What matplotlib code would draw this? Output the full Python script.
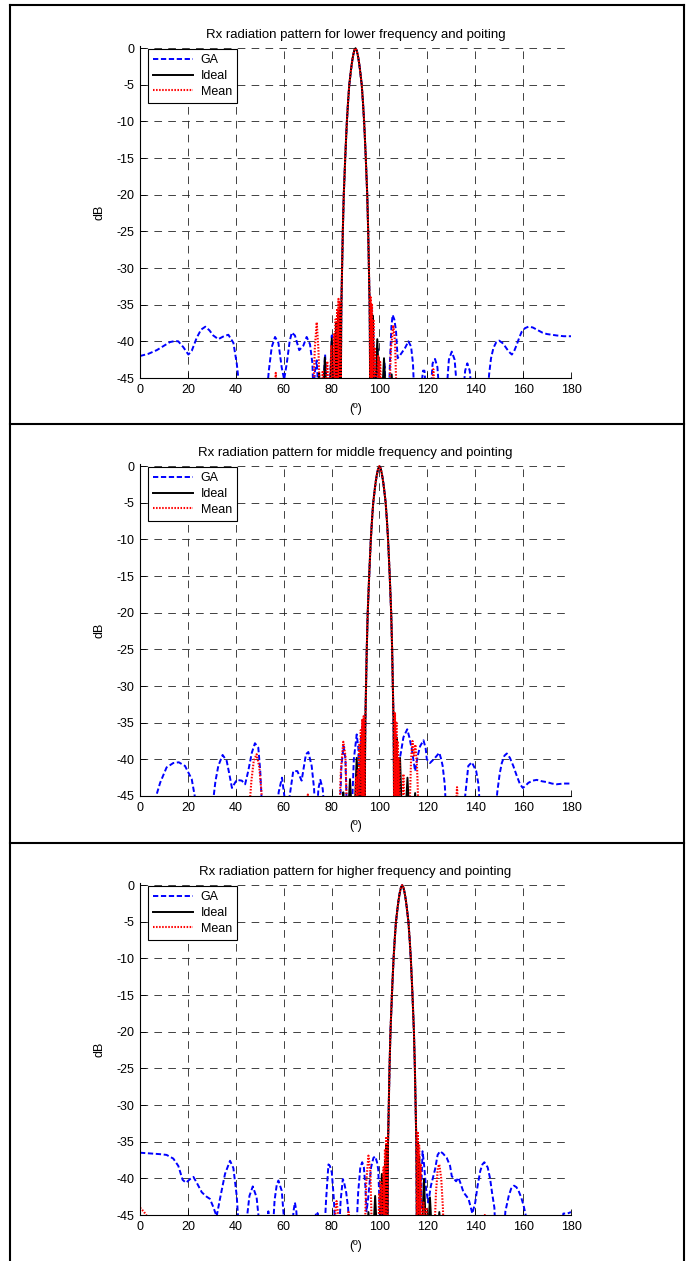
import matplotlib
matplotlib.use("Agg")
import matplotlib.pyplot as plt
from matplotlib.lines import Line2D

plt.rcParams["font.family"] = ["Liberation Sans", "DejaVu Sans"]
plt.rcParams["lines.scale_dashes"] = False
plt.rcParams["axes.unicode_minus"] = False

TITLES = [
    "Rx radiation pattern for lower frequency and poiting",
    "Rx radiation pattern for middle frequency and pointing",
    "Rx radiation pattern for higher frequency and pointing",
]
X_TICKS = list(range(0, 181, 20))
Y_TICKS = list(range(0, -46, -5))

# main lobe, (angle, dB), one per panel; -47 means below the -45 dB floor
P1_MAIN = [(83.9, -47), (84.0, -39), (84.1, -35), (84.25, -32.5), (84.4, -30), (84.55, -27.5),
           (84.7, -25), (84.9, -22.5), (85.1, -20), (85.4, -17.5), (85.7, -15), (86.0, -12.8),
           (86.4, -10), (86.9, -7.3), (87.4, -5), (88.1, -3), (88.5, -2), (89.0, -1), (89.5, -0.3),
           (90.0, 0), (90.5, -0.3), (91.0, -1), (91.5, -2), (91.9, -3), (92.6, -5), (93.1, -7.3),
           (93.6, -10), (94.0, -12.8), (94.3, -15), (94.6, -17.5), (94.9, -20), (95.1, -22.5),
           (95.3, -25), (95.45, -27.5), (95.6, -30), (95.75, -32.5), (95.9, -35), (96.0, -39), (96.1, -47)]
P2_MAIN = [(93.9, -47), (94.0, -39), (94.1, -35), (94.25, -32.5), (94.4, -30), (94.55, -27.5),
           (94.7, -25), (94.9, -22.5), (95.1, -20), (95.4, -17.5), (95.7, -15), (96.0, -12.8),
           (96.4, -10), (96.9, -7.3), (97.4, -5), (98.1, -3), (98.5, -2), (99.0, -1), (99.5, -0.3),
           (100.0, 0), (100.5, -0.3), (101.0, -1), (101.5, -2), (101.9, -3), (102.6, -5), (103.1, -7.3),
           (103.6, -10), (104.0, -12.8), (104.3, -15), (104.6, -17.5), (104.9, -20), (105.1, -22.5),
           (105.3, -25), (105.45, -27.5), (105.6, -30), (105.75, -32.5), (105.9, -35), (106.0, -39), (106.1, -47)]
P3_MAIN = [(103.4, -47), (103.5, -39), (103.6, -35), (103.75, -32.5), (103.9, -30), (104.05, -27.5),
           (104.2, -25), (104.4, -22.5), (104.6, -20), (104.9, -17.5), (105.2, -15), (105.5, -12.8),
           (105.9, -10), (106.4, -7.3), (106.9, -5), (107.6, -3), (108.0, -2), (108.5, -1), (109.0, -0.3),
           (109.5, 0), (110.0, -0.3), (110.5, -1), (111.0, -2), (111.4, -3), (112.1, -5), (112.6, -7.3),
           (113.1, -10), (113.5, -12.8), (113.8, -15), (114.1, -17.5), (114.4, -20), (114.6, -22.5),
           (114.8, -25), (114.95, -27.5), (115.1, -30), (115.25, -32.5), (115.4, -35), (115.5, -39), (115.6, -47)]

# panel 1: GA (left of main lobe, right of main lobe), Ideal, Mean
P1_GA_L = [(0, -42.0), (3.5, -41.7), (7.0, -41.2), (10, -40.6), (12.5, -40.1), (14.6, -39.95), (16.0, -40.0),
           (18.1, -40.8), (20.2, -41.8), (21.6, -41.3), (23.7, -39.5), (25.5, -38.4), (27.3, -38.0),
           (29.0, -38.5), (30.6, -39.2), (32.7, -39.7), (35.0, -39.3), (36.9, -39.1), (39.0, -40.2),
           (40.4, -43), (41.4, -46), (42, -47), (53, -47), (53.8, -44), (55.0, -40.8), (56.4, -39.4),
           (57.8, -40.2), (59.2, -43.6), (60.2, -45.2), (61.3, -43), (62.5, -40), (63.4, -38.8),
           (64.7, -39.2), (66.5, -41.2), (68.2, -40.6), (69.6, -39.4), (71.0, -40.4), (72.0, -43),
           (72.4, -47), (73.1, -44), (73.8, -42.6), (74.5, -47), (76.4, -47), (77.3, -41.8), (78.1, -47),
           (79.2, -47), (80.1, -39.2), (80.9, -47), (81.5, -47), (82.0, -39), (82.4, -47), (82.9, -36),
           (83.3, -47), (83.6, -35.5), (83.8, -47)]
P1_GA_R = [(96.2, -47), (96.6, -35), (97.0, -47), (97.4, -38), (97.8, -47), (98.6, -47), (99.2, -41),
           (99.8, -47), (101.5, -47), (102.1, -43), (102.7, -47), (104.0, -47), (104.4, -42.8), (105.0, -38),
           (105.5, -36.4), (106.2, -37), (106.9, -38.5), (107.6, -42.3), (108.6, -41.9), (110.7, -40.9),
           (112.1, -40), (113.2, -40.7), (114.0, -43), (114.5, -47), (117.2, -47), (118.2, -44),
           (118.8, -44), (119.5, -47), (121.4, -47), (122.2, -43), (123.2, -42.4), (124.2, -43.5),
           (125, -47), (128, -47), (129, -42.5), (130.2, -41.4), (131.4, -42.5), (132.5, -47), (135, -47),
           (135.8, -44), (136.7, -43), (137.7, -44), (138.5, -47), (145.2, -47), (145.8, -44.5),
           (146.6, -42.3), (147.6, -40.9), (148.8, -40.1), (150, -39.9), (151.3, -40.2), (152.5, -40.7),
           (154, -41.4), (155.3, -41.8), (156.3, -41.3), (157.4, -40.4), (158.5, -39.4), (159.4, -38.7),
           (160.8, -38.2), (162.2, -38.0), (164, -38.1), (165.7, -38.4), (168, -38.8), (169.9, -39.0),
           (172, -39.1), (174.1, -39.2), (177, -39.3), (180, -39.3)]
P1_IDEAL_L = [(60, -47), (74.4, -47), (74.8, -44.3), (75.2, -47), (76.6, -47), (77.2, -42.2), (77.8, -47),
              (79.4, -47), (80.1, -39.6), (80.8, -47), (81.6, -47), (82.0, -37.5), (82.4, -47),
              (82.8, -36), (83.2, -47), (83.5, -35), (83.8, -47)]
P1_IDEAL_R = [(96.2, -47), (96.5, -35), (96.8, -47), (97.2, -36.5), (97.6, -47), (98.3, -47), (99.1, -39.7),
              (99.9, -47), (101.2, -47), (101.9, -42.3), (102.6, -47), (104.6, -47), (105.1, -44.5),
              (105.6, -47), (120, -47)]
P1_MEAN_L = [(55, -47), (56.2, -47), (56.7, -44.3), (57.2, -47), (72.4, -47), (73.0, -41), (73.8, -37.4),
             (74.5, -41), (75.1, -47), (75.8, -47), (76.3, -44), (76.8, -47), (77.4, -47), (78.2, -42.7),
             (79.0, -47), (79.4, -47), (79.9, -40.5), (80.4, -47), (80.8, -47), (81.1, -39), (81.4, -47),
             (81.7, -37), (82.0, -47), (82.3, -35.5), (82.6, -47), (82.9, -34.2), (83.2, -47),
             (83.5, -34.5), (83.8, -47)]
P1_MEAN_R = [(96.2, -47), (96.4, -34), (96.7, -47), (96.9, -35), (97.2, -47), (97.5, -37), (97.8, -47),
             (98.1, -41), (98.5, -47), (99.0, -47), (99.5, -42), (100.0, -47), (100.3, -42.8),
             (100.8, -47), (104.2, -47), (104.8, -41), (105.8, -37.8), (106.5, -40), (107.1, -47),
             (121.8, -47), (122.5, -43.8), (123.2, -47), (130, -47)]

# panel 2
P2_GA_L = [(0, -47), (6.0, -47), (6.3, -45.5), (8.4, -43.2), (11.1, -41.1), (13.9, -40.5), (16.2, -40.4),
           (18.8, -40.9), (21.6, -42.7), (23.4, -46), (23.8, -47), (30.2, -47), (30.6, -45.5), (31.5, -43),
           (32.7, -40.9), (34.5, -39.4), (36.2, -40.2), (37.3, -42), (38.4, -43.9), (40.4, -42.8),
           (42.5, -42.9), (43.9, -43.4), (45.2, -41.6), (46.7, -39.1), (48.0, -37.8), (49.4, -38.4),
           (50.2, -41.5), (50.8, -45.5), (51.2, -47), (57.4, -47), (57.9, -44.5), (59.3, -42.5),
           (60.4, -45.3), (60.8, -47), (62.0, -47), (62.5, -45), (64.0, -41.6), (65.7, -41.6),
           (67.5, -42.9), (69.3, -39.3), (70.3, -39.0), (71.7, -40.9), (72.7, -44), (73.1, -47),
           (74.0, -47), (74.5, -44), (75.3, -42.8), (76.3, -44), (77.0, -47), (83.5, -47), (84.1, -41),
           (85.0, -38.2), (85.8, -40), (86.4, -47), (88.5, -47), (89.3, -40), (90.5, -36.6), (91.2, -38.5),
           (91.6, -47), (92.0, -47), (92.3, -37), (92.6, -47), (92.9, -35.5), (93.2, -47), (93.5, -35),
           (93.8, -47)]
P2_GA_R = [(106.2, -47), (106.6, -36), (107.0, -47), (107.3, -41), (107.9, -40.9), (109, -39), (110, -37),
           (111.6, -35.9), (112.5, -37), (113.5, -38.6), (114.9, -41.6), (116, -39.5), (117, -38.2),
           (118.4, -37.4), (119.3, -38.5), (119.8, -40), (121.1, -40.5), (123.2, -39.8), (125, -39.1),
           (125.8, -40), (126.4, -40.9), (127.3, -43.5), (127.8, -47), (135.4, -47), (135.8, -45),
           (137.1, -40.9), (138.6, -40.4), (140.4, -41.6), (141.4, -43.5), (142, -47), (148.6, -47),
           (149.2, -44.5), (150.2, -42), (151.1, -40.5), (152.2, -39.5), (153.2, -39.2), (154.5, -39.8),
           (155.9, -40.9), (157.3, -42.2), (158.7, -43.4), (159.9, -43.9), (161, -43.6), (162.2, -43.2),
           (164, -42.9), (165.7, -42.8), (168, -43.0), (169.9, -43.1), (172, -43.3), (174, -43.4),
           (177, -43.3), (180, -43.3)]
P2_IDEAL_L = [(80, -47), (84.5, -47), (84.9, -44.5), (85.3, -47), (87.0, -47), (87.7, -42.7), (88.4, -47),
              (89.7, -47), (90.5, -39.8), (91.3, -47), (91.9, -47), (92.2, -38), (92.5, -47), (92.8, -36.5),
              (93.1, -47), (93.4, -35.2), (93.8, -47)]
P2_IDEAL_R = [(106.2, -47), (106.5, -35), (106.8, -47), (107.2, -37), (107.6, -47), (107.9, -47),
              (108.6, -39.8), (109.3, -47), (111.0, -47), (111.7, -42.5), (112.4, -47), (114.4, -47),
              (114.9, -44.6), (115.4, -47), (120, -47)]
P2_MEAN_L = [(40, -47), (45.6, -47), (46.5, -43), (47.5, -40.2), (48.7, -39.3), (49.8, -41), (50.6, -44),
             (51.3, -47), (69.7, -47), (70.1, -44.8), (70.5, -47), (83.3, -47), (83.9, -41.5), (84.9, -37.6),
             (85.8, -39.5), (86.4, -47), (89.8, -47), (90.2, -42.5), (90.6, -47), (90.9, -41.5), (91.3, -47),
             (91.6, -38), (91.9, -47), (92.2, -36), (92.5, -47), (92.8, -34.5), (93.1, -47), (93.4, -34.1),
             (93.8, -47)]
P2_MEAN_R = [(106.2, -47), (106.5, -33.7), (106.8, -47), (107.1, -35), (107.4, -47), (107.7, -37.5),
             (108.0, -47), (108.3, -40), (108.6, -47), (109.5, -47), (110, -42), (110.5, -47), (112.6, -47),
             (113.2, -40), (113.8, -37.5), (114.4, -39.5), (115.0, -38), (115.7, -41), (116.3, -47),
             (131.8, -47), (132.4, -43.8), (133.0, -47), (140, -47)]

# panel 3
P3_GA_L = [(0, -36.5), (4.5, -36.6), (8.4, -36.7), (11.1, -36.8), (13.9, -37.3), (16.0, -38.3), (17.8, -40.2),
           (19.2, -40.6), (20.9, -40.1), (22.3, -39.8), (23.7, -40.6), (25.8, -41.9), (27.8, -42.5),
           (29.2, -42.8), (30.6, -43.9), (32.0, -45.2), (33.4, -42.8), (35.5, -39.4), (37.6, -37.6),
           (39.0, -38.6), (40.4, -42.4), (41.1, -46), (41.4, -47), (44.3, -47), (44.8, -45), (45.7, -42.4),
           (47.1, -41.1), (48.7, -42.6), (49.6, -45.5), (49.9, -47), (53.0, -47), (53.6, -44.5), (54.2, -47),
           (55.5, -47), (56.2, -43), (57.1, -40.9), (57.8, -40.3), (59.2, -41.7), (60.0, -45), (60.4, -47),
           (63.6, -47), (64.1, -44.5), (64.7, -43.3), (65.3, -44.5), (65.7, -47), (73.0, -47), (73.5, -44.6),
           (74.3, -44.8), (74.9, -47), (77.1, -47), (77.7, -43), (78.7, -38.1), (79.3, -38.3), (80.1, -39.2),
           (81.0, -43), (81.5, -47), (83.2, -47), (83.8, -43), (84.7, -40.1), (85.2, -40.5), (86.1, -41.9),
           (86.9, -44), (87.4, -47), (90.4, -47), (91.1, -42), (92.0, -38.5), (92.8, -37.8), (93.5, -38.5),
           (94.1, -41), (94.6, -44.5), (95.2, -43), (96.5, -38.5), (97.5, -37.2), (98.2, -37.0),
           (99.0, -37.8), (99.5, -38.8), (100.0, -43), (100.3, -47), (100.6, -47), (100.9, -41),
           (101.3, -47), (101.8, -47), (102.2, -40.5), (102.6, -47), (102.9, -36.5), (103.2, -47)]
P3_GA_R = [(115.8, -47), (116.1, -36), (116.4, -47), (116.8, -38), (117.2, -44), (118.0, -36.3), (118.6, -38),
           (119.5, -41.5), (120.4, -43.3), (121.5, -41), (123.2, -38.8), (124.3, -36.8), (125.3, -36.3),
           (126.5, -36.6), (128.1, -37.2), (129.5, -38.3), (130.2, -39.7), (132.0, -40.4), (133.0, -39.9),
           (134.0, -40.8), (135.1, -41.9), (137.2, -42.8), (138.0, -43.8), (138.8, -44.8), (140.0, -43.3),
           (141.0, -41), (142.1, -39.0), (143.0, -38.1), (143.8, -37.8), (145.2, -38.5), (146.2, -40),
           (147.0, -41.9), (148.0, -44), (148.4, -47), (152.0, -47), (152.6, -44.5), (154.0, -42.4),
           (155.0, -41.4), (156.2, -41.0), (157.2, -41.2), (158.1, -41.7), (159.2, -42.6), (160.2, -43.7),
           (161.2, -45.2), (161.6, -47), (176.0, -47), (176.8, -44.8), (178.5, -44.8), (180, -44.6)]
P3_IDEAL_L = [(90, -47), (94.9, -47), (95.4, -44.6), (95.9, -47), (97.5, -47), (98.2, -42.4), (98.9, -47),
              (100.2, -47), (101.0, -39.4), (101.8, -47), (102.1, -47), (102.4, -37.5), (102.7, -47),
              (102.9, -35.5), (103.2, -47)]
P3_IDEAL_R = [(115.8, -47), (116.0, -35), (116.3, -47), (116.6, -37), (117.0, -47), (117.8, -47),
              (118.6, -40.1), (119.4, -47), (120.4, -47), (121.1, -42.6), (121.8, -47), (124.5, -47),
              (125.0, -44.6), (125.5, -47), (130, -47)]
P3_MEAN_L = [(0, -44.0), (1.5, -44.5), (3.0, -45.2), (3.5, -47), (81.2, -47), (81.7, -44), (82.1, -43.1),
             (82.6, -44.5), (83.0, -47), (86.6, -47), (87.1, -44.6), (87.6, -47), (93.9, -47), (94.5, -40.5),
             (95.4, -36.9), (96.2, -39), (96.8, -47), (99.6, -47), (99.9, -42), (100.2, -47), (100.5, -40.5),
             (100.8, -47), (101.1, -41), (101.4, -47), (101.7, -38.5), (102.0, -47), (102.3, -36),
             (102.6, -47), (102.9, -34.3), (103.2, -47)]
P3_MEAN_R = [(115.8, -47), (116.0, -33.6), (116.3, -47), (116.6, -35.5), (116.9, -47), (117.2, -38),
             (117.5, -47), (118.0, -47), (118.4, -43.3), (118.8, -47), (119.2, -47), (119.6, -44),
             (120.0, -47), (123.0, -47), (123.6, -42), (124.4, -38.5), (125.0, -38.1), (125.8, -40),
             (126.5, -44), (126.8, -47), (143.5, -47), (144, -45), (144.5, -47), (150, -47)]

PANELS = [
    (P1_MAIN, P1_GA_L, P1_GA_R, P1_IDEAL_L, P1_IDEAL_R, P1_MEAN_L, P1_MEAN_R),
    (P2_MAIN, P2_GA_L, P2_GA_R, P2_IDEAL_L, P2_IDEAL_R, P2_MEAN_L, P2_MEAN_R),
    (P3_MAIN, P3_GA_L, P3_GA_R, P3_IDEAL_L, P3_IDEAL_R, P3_MEAN_L, P3_MEAN_R),
]

GA_STYLE = dict(color="#0000ff", linestyle=(0, (3.8, 1.9)), linewidth=1.4)
IDEAL_STYLE = dict(color="black", linestyle="-", linewidth=1.4)
MEAN_STYLE = dict(color="#ff0000", linestyle=(0, (1.1, 1.1)), linewidth=1.5)

W, H = 689, 1261
AX_LEFT, AX_RIGHT = 140, 571
AX_TOPS = [46, 464, 883]
AX_HEIGHT = 332


def unzip(points):
    return [p[0] for p in points], [p[1] for p in points]


def main() -> None:
    fig = plt.figure(figsize=(W / 100, H / 100), dpi=100)

    # panel frames
    for y in [5, 424, 843]:
        fig.add_artist(Line2D([10 / W, 684 / W], [1 - y / H, 1 - y / H], color="black", lw=1.5))
    for x in [10, 684]:
        fig.add_artist(Line2D([x / W, x / W], [1 - 5 / H, 0], color="black", lw=1.5))

    for i, (main_lobe, ga_l, ga_r, id_l, id_r, mn_l, mn_r) in enumerate(PANELS):
        top = AX_TOPS[i]
        ax = fig.add_axes([AX_LEFT / W, 1 - (top + AX_HEIGHT) / H,
                           (AX_RIGHT - AX_LEFT) / W, AX_HEIGHT / H])

        ax.plot(*unzip(ga_l + main_lobe + ga_r), label="GA", **GA_STYLE)
        ax.plot(*unzip(id_l + main_lobe + id_r), label="Ideal", **IDEAL_STYLE)
        ax.plot(*unzip(mn_l + main_lobe + mn_r), label="Mean", **MEAN_STYLE)

        ax.set_xlim(0, 180)
        ax.set_ylim(-45, 0.3)
        ax.set_xticks(X_TICKS)
        ax.set_yticks(Y_TICKS)
        ax.tick_params(direction="in", length=4, width=0.6, labelsize=9, pad=4)
        ax.grid(True, color="#222222", linestyle=(0, (5.5, 4.5)), linewidth=0.6)
        ax.set_axisbelow(True)
        for side in ["top", "right"]:
            ax.spines[side].set_visible(False)
        for side in ["left", "bottom"]:
            ax.spines[side].set_linewidth(0.8)

        ax.set_title(TITLES[i], fontsize=9.5, pad=6)
        ax.set_xlabel("(º)", fontsize=9, labelpad=5)
        ax.set_ylabel("dB", fontsize=9, labelpad=8)

        leg = ax.legend(loc="upper left", bbox_to_anchor=(8 / 431, 0.99), borderaxespad=0,
                        fontsize=9, fancybox=False, framealpha=1, edgecolor="black",
                        handlelength=3.2, handletextpad=0.6, labelspacing=0.3, borderpad=0.4)
        leg.get_frame().set_linewidth(0.8)

    fig.savefig("out.png", dpi=100)
    plt.close(fig)


if __name__ == "__main__":
    main()
